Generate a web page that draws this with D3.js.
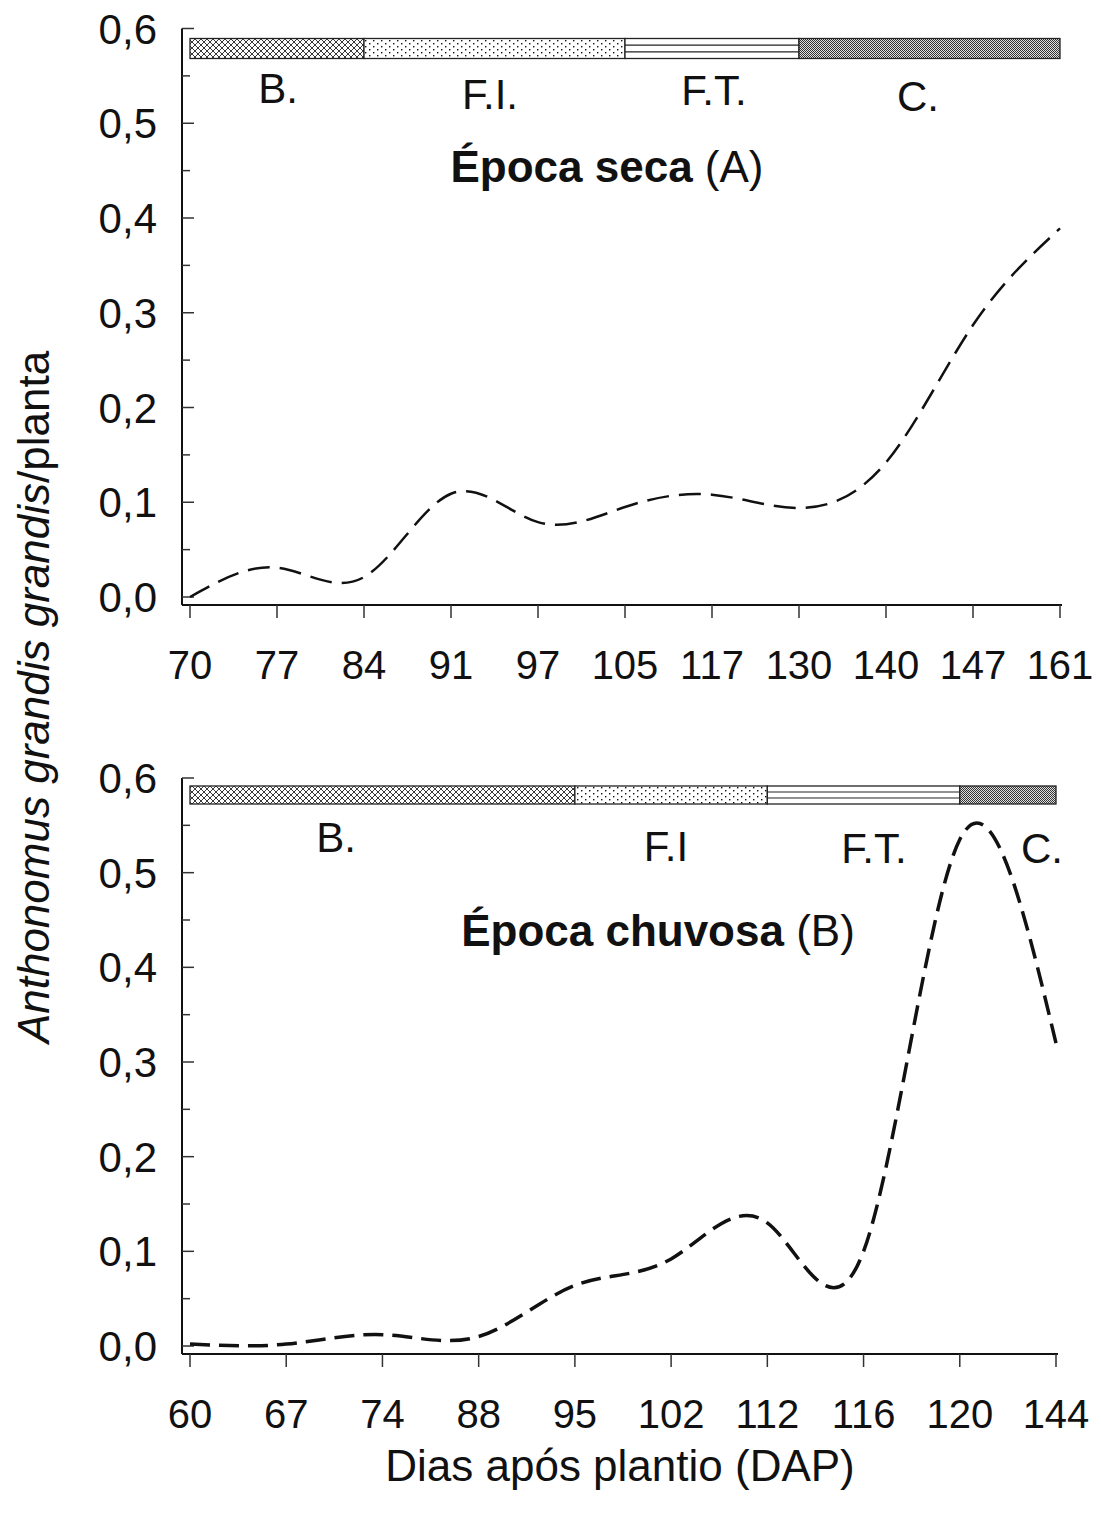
<html>
<head>
<style>
body{margin:0;background:#fff;}
svg text{font-family:"Liberation Sans",Arial,sans-serif;fill:#111;}
</style>
<script src="https://d3js.org/d3.v7.min.js"></script>
</head>
<body>
<svg id="chart" width="1101" height="1515"></svg>
<script>
// Época seca (A)
const daysA = ["70","77","84","91","97","105","117","130","140","147","161"];
const valuesA = [0.0, 0.031, 0.021, 0.109, 0.079, 0.095, 0.108, 0.094, 0.142, 0.287, 0.389];
const phasesA = [["84","B."],["105","F.I."],["130","F.T."],["161","C."]];

// Época chuvosa (B)
const daysB = ["60","67","74","88","95","102","112","116","120","144"];
const valuesB = [0.002, 0.002, 0.012, 0.010, 0.064, 0.092, 0.130, 0.100, 0.535, 0.320];
const phasesB = [["95","B."],["112","F.I"],["120","F.T."],["144","C."]];

const yTicks = [0, 0.1, 0.2, 0.3, 0.4, 0.5, 0.6];
const yMinor = [0.05, 0.15, 0.25, 0.35, 0.45, 0.55];

const svg = d3.select("#chart");
const defs = svg.append("defs");

// fill patterns for the phase bar
const hatch = defs.append("pattern").attr("id","hatch").attr("patternUnits","userSpaceOnUse")
  .attr("width",6).attr("height",6);
hatch.append("rect").attr("width",6).attr("height",6).attr("fill","#fff");
hatch.append("path").attr("d","M0,0L6,6M6,0L0,6M-1,5L1,7M5,-1L7,1M-1,1L1,-1M5,7L7,5")
  .attr("stroke","#222").attr("stroke-width",0.9);

const dots = defs.append("pattern").attr("id","dots").attr("patternUnits","userSpaceOnUse")
  .attr("width",8).attr("height",6);
dots.append("rect").attr("width",8).attr("height",6).attr("fill","#fff");
dots.append("rect").attr("x",1).attr("y",1).attr("width",1.4).attr("height",1.4).attr("fill","#111");
dots.append("rect").attr("x",5).attr("y",4).attr("width",1.4).attr("height",1.4).attr("fill","#111");

const check = defs.append("pattern").attr("id","check").attr("patternUnits","userSpaceOnUse")
  .attr("width",2).attr("height",2);
check.append("rect").attr("width",2).attr("height",2).attr("fill","#e0e0e0");
check.append("rect").attr("width",1).attr("height",1).attr("fill","#333");
check.append("rect").attr("x",1).attr("y",1).attr("width",1).attr("height",1).attr("fill","#333");

const fills = ["url(#hatch)","url(#dots)","stripes","url(#check)"];

function panel(cfg) {
  const x = d3.scalePoint().domain(cfg.days).range(cfg.xr);
  const y = d3.scaleLinear().domain([0, 0.6]).range(cfg.yr);
  const g = svg.append("g");
  const axX = 182, base = cfg.yr[0] + 8;

  // y axis
  g.append("line").attr("x1",axX).attr("x2",axX).attr("y1",y(0.6)).attr("y2",base)
    .attr("stroke","#111").attr("stroke-width",2);
  g.selectAll(".ymaj").data(yTicks).enter().append("line")
    .attr("x1",axX).attr("x2",axX+12).attr("y1",d=>y(d)).attr("y2",d=>y(d))
    .attr("stroke","#333").attr("stroke-width",1.5);
  g.selectAll(".ymin").data(yMinor).enter().append("line")
    .attr("x1",axX).attr("x2",axX+8).attr("y1",d=>y(d)).attr("y2",d=>y(d))
    .attr("stroke","#333").attr("stroke-width",1.5);
  g.selectAll(".ylab").data(yTicks).enter().append("text")
    .attr("x",157).attr("y",d=>y(d)+15).attr("text-anchor","end")
    .attr("font-size",42).text(d=>d3.format(".1f")(d).replace(".",","));

  // x axis
  g.append("line").attr("x1",axX).attr("x2",cfg.xr[1]+2).attr("y1",base).attr("y2",base)
    .attr("stroke","#111").attr("stroke-width",2);
  g.selectAll(".xt").data(cfg.days).enter().append("line")
    .attr("x1",d=>x(d)).attr("x2",d=>x(d)).attr("y1",base).attr("y2",base+13)
    .attr("stroke","#333").attr("stroke-width",1.5);
  g.selectAll(".xlab").data(cfg.days).enter().append("text")
    .attr("x",d=>x(d)).attr("y",base+74).attr("text-anchor","middle")
    .attr("font-size",40).text(d=>d);

  // phase bar
  const barTop = y(0.6) + cfg.barOff, barH = cfg.barH;
  let start = cfg.days[0];
  cfg.phases.forEach((p, i) => {
    const x0 = x(start), x1 = x(p[0]);
    if (fills[i] === "stripes") {
      g.append("rect").attr("x",x0).attr("y",barTop).attr("width",x1-x0).attr("height",barH)
        .attr("fill","#fff");
      [1/3, 2/3].forEach(f => g.append("line").attr("x1",x0).attr("x2",x1)
        .attr("y1",barTop+barH*f).attr("y2",barTop+barH*f).attr("stroke","#222").attr("stroke-width",1.2));
    } else {
      g.append("rect").attr("x",x0).attr("y",barTop).attr("width",x1-x0).attr("height",barH)
        .attr("fill",fills[i]);
    }
    g.append("rect").attr("x",x0).attr("y",barTop).attr("width",x1-x0).attr("height",barH)
      .attr("fill","none").attr("stroke","#222").attr("stroke-width",1.3);
    g.append("text").attr("x",cfg.labX[i]).attr("y",cfg.labY[i]).attr("text-anchor","middle")
      .attr("font-size",42).text(p[1]);
    start = p[0];
  });

  // title
  const t = g.append("text").attr("x",cfg.titleX).attr("y",cfg.titleY)
    .attr("text-anchor","middle").attr("font-size",44);
  t.append("tspan").attr("font-weight","bold").text(cfg.title);
  t.append("tspan").text(" " + cfg.tag);

  // curve
  const line = d3.line().x((d,i)=>x(cfg.days[i])).y(d=>y(d)).curve(d3.curveNatural);
  g.append("path").attr("d",line(cfg.values)).attr("fill","none")
    .attr("stroke","#111").attr("stroke-width",cfg.lw)
    .attr("stroke-dasharray",cfg.dash).attr("stroke-linecap","butt");
}

panel({days:daysA, values:valuesA, phases:phasesA, xr:[190,1060], yr:[597,28.5],
  barOff:10, barH:20, labX:[278,490,714,918], labY:[103,109,105,111],
  title:"Época seca", tag:"(A)", titleX:607, titleY:182, lw:2.5, dash:"22,10"});

panel({days:daysB, values:valuesB, phases:phasesB, xr:[190,1056], yr:[1346,778],
  barOff:8, barH:18, labX:[336,666,874,1042], labY:[852,861,863,863],
  title:"Época chuvosa", tag:"(B)", titleX:658, titleY:946, lw:3.5, dash:"20,9"});

// axis titles
const yt = svg.append("text").attr("transform","translate(49,697) rotate(-90)")
  .attr("text-anchor","middle").attr("font-size",44);
yt.append("tspan").attr("font-style","italic").text("Anthonomus grandis grandis");
yt.append("tspan").text("/planta");

svg.append("text").attr("x",620).attr("y",1481).attr("text-anchor","middle")
  .attr("font-size",44).text("Dias após plantio (DAP)");
</script>
</body>
</html>
